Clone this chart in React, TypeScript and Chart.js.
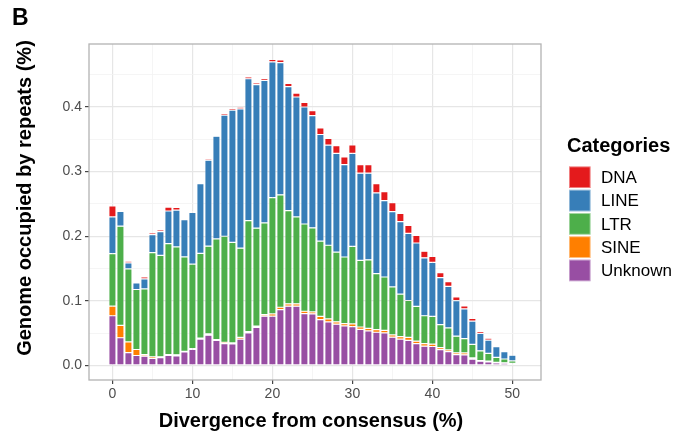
import React, { useEffect, useRef } from "react";
import { Chart, registerables } from "chart.js";

Chart.register(...registerables);

const FONT = "'Liberation Sans', Arial, Helvetica, sans-serif";

// Divergence from consensus (%) — one bar per integer
const divergence = [
  0, 1, 2, 3, 4, 5, 6, 7, 8, 9, 10, 11, 12, 13, 14, 15, 16, 17, 18, 19, 20,
  21, 22, 23, 24, 25, 26, 27, 28, 29, 30, 31, 32, 33, 34, 35, 36, 37, 38, 39,
  40, 41, 42, 43, 44, 45, 46, 47, 48, 49, 50,
];

const unknownVals = [
  0.077, 0.043, 0.02, 0.0155, 0.0144, 0.011, 0.012, 0.0155, 0.015, 0.021,
  0.025, 0.041, 0.047, 0.0387, 0.034, 0.0335, 0.041, 0.0505, 0.059, 0.0763,
  0.0763, 0.0866, 0.0918, 0.0918, 0.0804, 0.08, 0.071, 0.0675, 0.064, 0.0613,
  0.0603, 0.056, 0.0536, 0.0515, 0.0505, 0.0438, 0.041, 0.039, 0.034, 0.03,
  0.0294, 0.0247, 0.0216, 0.017, 0.0165, 0.0098, 0.0067, 0.0057, 0.004,
  0.0036, 0.003,
];

const sineVals = [
  0.015, 0.019, 0.0165, 0.0093, 0.0026, 0.0026, 0.0015, 0.0015, 0.0015, 0.001,
  0.001, 0.0015, 0.002, 0.0015, 0.002, 0.0015, 0.0026, 0.002, 0.002, 0.0026,
  0.0036, 0.0036, 0.0036, 0.0036, 0.0036, 0.003, 0.005, 0.0046, 0.0036, 0.0036,
  0.004, 0.0036, 0.004, 0.004, 0.004, 0.0036, 0.0036, 0.0046, 0.0036, 0.004,
  0.0036, 0.003, 0.0026, 0.0026, 0.003, 0.002, 0.001, 0.001, 0.001, 0.0005,
  0.0005,
];

const ltrVals = [
  0.081, 0.1536, 0.113, 0.0928, 0.1015, 0.161, 0.157, 0.1716, 0.167, 0.146,
  0.131, 0.131, 0.1356, 0.1557, 0.164, 0.1557, 0.138, 0.1716, 0.1515, 0.1418,
  0.18, 0.174, 0.1443, 0.1345, 0.135, 0.13, 0.1165, 0.114, 0.108, 0.103, 0.12,
  0.103, 0.106, 0.0866, 0.0825, 0.0742, 0.066, 0.057, 0.054, 0.043, 0.043,
  0.0356, 0.034, 0.0258, 0.022, 0.021, 0.015, 0.012, 0.0077, 0.006, 0.0036,
];

const lineVals = [
  0.057, 0.0227, 0.0093, 0.0103, 0.0155, 0.028, 0.0366, 0.0505, 0.057, 0.0577,
  0.08, 0.108, 0.133, 0.159, 0.1876, 0.2046, 0.2155, 0.2196, 0.222, 0.2206,
  0.21, 0.2046, 0.192, 0.1856, 0.181, 0.1737, 0.165, 0.155, 0.1526, 0.143,
  0.144, 0.135, 0.134, 0.125, 0.118, 0.1165, 0.112, 0.104, 0.098, 0.0897,
  0.0835, 0.0727, 0.0644, 0.055, 0.046, 0.036, 0.027, 0.0206, 0.0165, 0.0113,
  0.0088,
];

const dnaVals = [
  0.017, 0.001, 0.0026, 0.001, 0.003, 0.0026, 0.0026, 0.006, 0.004, 0.002,
  0.002, 0.0015, 0.002, 0.002, 0.0026, 0.0026, 0.0026, 0.003, 0.003, 0.003,
  0.0036, 0.004, 0.005, 0.006, 0.0072, 0.0077, 0.0103, 0.0103, 0.0119, 0.0119,
  0.0129, 0.0134, 0.0134, 0.0144, 0.0139, 0.0139, 0.0129, 0.0124, 0.0119,
  0.0103, 0.0093, 0.0077, 0.0072, 0.0057, 0.0046, 0.004, 0.003, 0.003, 0.002,
  0.001, 0.001,
];

// Legend order (top to bottom) and colours
const categories = ["DNA", "LINE", "LTR", "SINE", "Unknown"];
const colors: Record<string, string> = {
  DNA: "#E41A1C",
  LINE: "#377EB8",
  LTR: "#4DAF4A",
  SINE: "#FF7F00",
  Unknown: "#984EA3",
};

// Axis ticks (major labelled, minor grid only)
const xGridValues = [0, 5, 10, 15, 20, 25, 30, 35, 40, 45, 50];
const xMajor = [0, 10, 20, 30, 40, 50];
const yGridValues = [0, 0.05, 0.1, 0.15, 0.2, 0.25, 0.3, 0.35, 0.4, 0.45];
const yMajor = [0, 0.1, 0.2, 0.3, 0.4];

const X_TITLE = "Divergence from consensus (%)";
const Y_TITLE = "Genome occupied by repeats (%)";
const LEGEND_TITLE = "Categories";
const PANEL_LABEL = "B";

const isMajor = (v: number, majors: number[]) =>
  majors.some((m) => Math.abs(m - v) < 1e-9);

const decorPlugin = {
  id: "decor",
  beforeDraw(chart: any) {
    const { ctx, width, height } = chart;
    ctx.save();
    ctx.fillStyle = "#ffffff";
    ctx.fillRect(0, 0, width, height);
    ctx.restore();
  },
  afterDraw(chart: any) {
    const { ctx, chartArea: a } = chart;
    ctx.save();
    // panel border
    ctx.strokeStyle = "#b3b3b3";
    ctx.lineWidth = 1.3;
    ctx.strokeRect(a.left, a.top, a.right - a.left, a.bottom - a.top);

    // panel label
    ctx.fillStyle = "#000";
    ctx.textAlign = "left";
    ctx.textBaseline = "alphabetic";
    ctx.font = `bold 23px ${FONT}`;
    ctx.fillText(PANEL_LABEL, 12, 25);

    // x title
    ctx.font = `bold 20px ${FONT}`;
    ctx.textAlign = "center";
    ctx.textBaseline = "middle";
    ctx.fillText(X_TITLE, 311, 421);

    // y title
    ctx.save();
    ctx.translate(25, 198);
    ctx.rotate(-Math.PI / 2);
    ctx.fillText(Y_TITLE, 0, 0);
    ctx.restore();

    // legend
    ctx.textAlign = "left";
    ctx.textBaseline = "alphabetic";
    ctx.font = `bold 20px ${FONT}`;
    ctx.fillText(LEGEND_TITLE, 567, 152);
    const keyLeft = 569;
    const keySize = 21.5;
    const step = 23.3;
    const firstTop = 166.5;
    ctx.font = `17px ${FONT}`;
    ctx.textBaseline = "middle";
    categories.forEach((c, i) => {
      const top = firstTop + i * step;
      ctx.fillStyle = colors[c];
      ctx.fillRect(keyLeft, top, keySize, keySize);
      ctx.strokeStyle = "rgba(255,255,255,0.55)";
      ctx.lineWidth = 0.8;
      ctx.strokeRect(keyLeft + 0.4, top + 0.4, keySize - 0.8, keySize - 0.8);
      ctx.fillStyle = "#000";
      ctx.fillText(c, 601, top + keySize / 2 + 1);
    });
    ctx.restore();
  },
};

const stackOrder = [
  { label: "Unknown", values: unknownVals },
  { label: "SINE", values: sineVals },
  { label: "LTR", values: ltrVals },
  { label: "LINE", values: lineVals },
  { label: "DNA", values: dnaVals },
];

export default function App() {
  const canvasRef = useRef<HTMLCanvasElement | null>(null);

  useEffect(() => {
    const canvas = canvasRef.current;
    if (!canvas) return;
    const chart = new Chart(canvas, {
      type: "bar",
      data: {
        datasets: stackOrder.map((s) => ({
          label: s.label,
          data: divergence.map((d, i) => ({ x: d, y: s.values[i] })),
          backgroundColor: colors[s.label],
          borderColor: "rgba(255,255,255,0.5)",
          borderWidth: 0.6,
          borderSkipped: false,
          categoryPercentage: 1,
          barPercentage: 0.9,
        })),
      },
      options: {
        animation: false,
        responsive: false,
        maintainAspectRatio: false,
        devicePixelRatio: 1,
        layout: { padding: { top: 44, right: 145, left: 0, bottom: 0 } },
        plugins: {
          legend: { display: false },
          tooltip: { enabled: false },
          title: { display: false },
        },
        scales: {
          x: {
            type: "linear",
            stacked: true,
            min: -2.93,
            max: 53.58,
            offset: false,
            afterBuildTicks: (s: any) => {
              s.ticks = xGridValues.map((v) => ({ value: v }));
            },
            afterFit: (s: any) => {
              s.height = 60;
            },
            border: { display: false },
            grid: {
              offset: false,
              drawTicks: true,
              tickLength: 4,
              color: (c: any) =>
                isMajor(c.tick?.value, xMajor) ? "#e6e6e6" : "#f3f3f3",
              lineWidth: (c: any) => (isMajor(c.tick?.value, xMajor) ? 1.2 : 0.8),
              tickColor: (c: any) =>
                isMajor(c.tick?.value, xMajor) ? "#444" : "rgba(0,0,0,0)",
              tickWidth: 1.2,
            },
            ticks: {
              autoSkip: false,
              maxRotation: 0,
              padding: 2,
              color: "#4d4d4d",
              font: { family: FONT, size: 14 },
              callback: (v: any) => (isMajor(Number(v), xMajor) ? String(v) : ""),
            },
          },
          y: {
            type: "linear",
            stacked: true,
            min: -0.0224,
            max: 0.4975,
            afterBuildTicks: (s: any) => {
              s.ticks = yGridValues.map((v) => ({ value: v }));
            },
            afterFit: (s: any) => {
              s.width = 89;
            },
            border: { display: false },
            grid: {
              drawTicks: true,
              tickLength: 4,
              color: (c: any) =>
                isMajor(c.tick?.value, yMajor) ? "#e6e6e6" : "#f3f3f3",
              lineWidth: (c: any) => (isMajor(c.tick?.value, yMajor) ? 1.2 : 0.8),
              tickColor: (c: any) =>
                isMajor(c.tick?.value, yMajor) ? "#444" : "rgba(0,0,0,0)",
              tickWidth: 1.2,
            },
            ticks: {
              autoSkip: false,
              padding: 3,
              color: "#4d4d4d",
              font: { family: FONT, size: 14 },
              callback: (v: any) =>
                isMajor(Number(v), yMajor) ? Number(v).toFixed(1) : "",
            },
          },
        },
      },
      plugins: [decorPlugin],
    });
    return () => chart.destroy();
  }, []);

  return (
    <div
      style={{
        position: "fixed",
        left: 0,
        top: 0,
        width: 686,
        height: 440,
        background: "#fff",
      }}
    >
      <canvas
        ref={canvasRef}
        width={686}
        height={440}
        style={{ width: 686, height: 440, display: "block" }}
      />
    </div>
  );
}
